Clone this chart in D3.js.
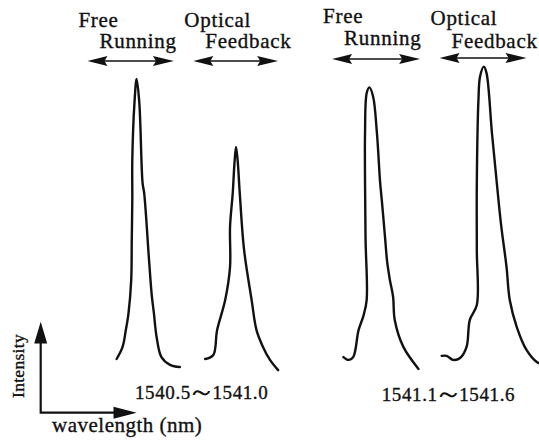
<!DOCTYPE html>
<html lang="en">
<head>
<meta charset="UTF-8">
<title>Spectra: free running vs optical feedback</title>
<script src="https://cdnjs.cloudflare.com/ajax/libs/d3/7.8.5/d3.min.js"></script>
<style>
    body { margin: 0; background: #fff; }
    svg { display: block; }
    text { font-family: "Liberation Serif", "Times New Roman", serif; fill: #111; stroke: #111; stroke-width: 0.35px; }
</style>
</head>
<body>
<div id="chart"></div>
<script>
    // traced spectra: [relative wavelength (0-100 across the figure), intensity (a.u.)]
    const freeRunningA = [
        [21.6, 4.2], [22.7, 8.1], [23.3, 13.5], [23.8, 19.0], [24.3, 29.7], [24.4, 42.6],
        [24.5, 55.5], [24.5, 68.4], [24.9, 86.8], [25.3, 94.5], [25.8, 86.8], [26.4, 61.0],
        [26.7, 57.7], [27.6, 36.1], [28.1, 24.8], [28.5, 19.0], [29.0, 11.3], [29.9, 4.8],
        [31.5, 2.3], [33.3, 1.6]
    ];
    const feedbackA = [
        [38.0, 4.2], [39.5, 5.5], [40.2, 13.5], [41.7, 23.2], [42.6, 33.9], [42.6, 46.8],
        [43.1, 57.7], [43.4, 66.8], [43.7, 72.6], [44.0, 68.4], [44.4, 57.7], [45.2, 39.4],
        [46.6, 23.2], [47.5, 13.5], [48.7, 8.1], [50.0, 3.9], [51.5, 0.6]
    ];
    const freeRunningB = [
        [63.6, 4.8], [64.5, 3.9], [65.4, 4.8], [66.4, 13.5], [67.3, 18.1], [67.9, 23.2],
        [67.7, 42.6], [67.6, 61.0], [67.6, 77.1], [67.9, 89.9], [68.4, 91.8], [69.1, 88.8],
        [69.8, 77.1], [70.4, 61.0], [70.7, 55.5], [71.3, 43.5], [71.7, 35.5], [72.2, 29.7],
        [72.8, 24.2], [73.1, 16.8], [74.7, 8.1], [77.5, 1.0]
    ];
    const feedbackB = [
        [81.8, 5.2], [82.7, 5.2], [83.9, 3.9], [85.2, 4.5], [86.4, 8.1], [87.0, 16.8],
        [88.3, 21.6], [88.3, 39.4], [88.3, 61.0], [88.6, 87.7], [88.9, 95.3], [89.6, 98.5],
        [90.1, 96.4], [91.1, 77.1], [92.0, 61.0], [92.8, 47.4], [93.8, 33.9], [94.4, 23.2],
        [95.7, 14.5], [97.5, 7.1], [99.4, 3.2], [99.8, 2.9]
    ];
    const spectra = [freeRunningA, feedbackA, freeRunningB, feedbackB];

    const spectrumLabels = [["Free", "Running"], ["Optical", "Feedback"], ["Free", "Running"], ["Optical", "Feedback"]];
    const spectrumSpans = [[16.2, 32.2], [35.8, 51.5], [61.5, 77.8], [81.4, 97.5]];

    const rangeLabels = [["1540.5", "1541.0"], ["1541.1", "1541.6"]];
    const rangeLabelX = [25.0, 70.7];

    const axisLabels = { x: "wavelength (nm)", y: "Intensity" };

    // layout (pixels)
    const W = 539, H = 441;
    const spanY = [61, 61, 59, 58];
    const labelY = [[27, 48], [27, 48], [23, 45], [25, 48]];
    const rangeY = [399, 401];

    const x = d3.scaleLinear().domain([0, 100]).range([0, 540]);
    const y = d3.scaleLinear().domain([0, 100]).range([372, 62]);

    const svg = d3.select("#chart").append("svg")
        .attr("width", W)
        .attr("height", H);

    const line = d3.line()
        .x(d => x(d[0]))
        .y(d => y(d[1]))
        .curve(d3.curveCatmullRom.alpha(0.5));

    svg.selectAll(".spectrum")
        .data(spectra)
        .enter().append("path")
        .attr("class", "spectrum")
        .attr("d", line)
        .attr("fill", "none")
        .attr("stroke", "#111")
        .attr("stroke-width", 2.4)
        .attr("stroke-linejoin", "round")
        .attr("stroke-linecap", "round");

    // double headed arrows above each spectrum
    function headPath(tipX, tipY, dir, len, half) {
        return `M${tipX},${tipY}L${tipX - dir * len},${tipY - half}L${tipX - dir * len * 0.85},${tipY}L${tipX - dir * len},${tipY + half}Z`;
    }

    spectrumSpans.forEach((s, i) => {
        const x0 = x(s[0]), x1 = x(s[1]), yy = spanY[i];
        const g = svg.append("g");
        g.append("line")
            .attr("x1", x0 + 10).attr("x2", x1 - 10)
            .attr("y1", yy).attr("y2", yy)
            .attr("stroke", "#111").attr("stroke-width", 1.6);
        g.append("path").attr("d", headPath(x0, yy, -1, 20, 5)).attr("fill", "#111");
        g.append("path").attr("d", headPath(x1, yy, 1, 21, 5)).attr("fill", "#111");

        g.append("text")
            .attr("x", x0 - 9).attr("y", labelY[i][0])
            .style("font-size", "21px").style("letter-spacing", "0.7px")
            .text(spectrumLabels[i][0]);
        g.append("text")
            .attr("x", x0 + 12).attr("y", labelY[i][1])
            .style("font-size", "21px").style("letter-spacing", "0.7px")
            .text(spectrumLabels[i][1]);
    });

    // wavelength ranges under each pair
    rangeLabels.forEach((r, i) => {
        const t = svg.append("text")
            .attr("x", x(rangeLabelX[i]))
            .attr("y", rangeY[i])
            .style("font-size", "19px")
            .style("letter-spacing", "0.6px");
        t.append("tspan").text(r[0]);
        t.append("tspan").style("font-size", "29px").style("stroke-width", "0.1px")
            .attr("dx", -4).attr("dy", 2).text("～");
        t.append("tspan").attr("dx", -4).attr("dy", -2).text(r[1]);
    });

    // axis direction indicator
    const ax = 40.7, ay = 412.7;
    svg.append("path")
        .attr("d", `M${ax},343L${ax},${ay}L115,${ay}`)
        .attr("fill", "none").attr("stroke", "#111").attr("stroke-width", 2.2);
    svg.append("path")
        .attr("d", `M${ax},321.7L${ax - 6.5},343.5L${ax + 6.5},343.5Z`).attr("fill", "#111");
    svg.append("path")
        .attr("d", `M136.7,${ay}L113.5,${ay - 6}L113.5,${ay + 6}Z`).attr("fill", "#111");

    svg.append("text")
        .attr("transform", "translate(24,366) rotate(-90)")
        .attr("text-anchor", "middle")
        .style("font-size", "17.5px")
        .style("letter-spacing", "0.3px")
        .text(axisLabels.y);

    svg.append("text")
        .attr("x", 52).attr("y", 432)
        .style("font-size", "21px")
        .style("letter-spacing", "0.5px")
        .text(axisLabels.x);
</script>
</body>
</html>
